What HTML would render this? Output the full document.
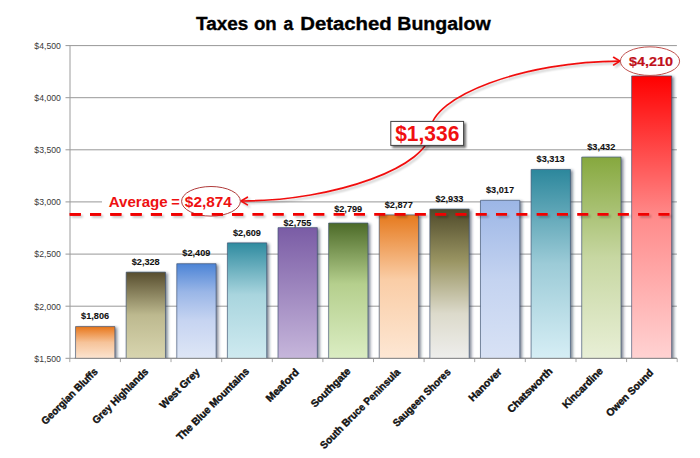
<!DOCTYPE html>
<html lang="en"><head><meta charset="utf-8"><title>Taxes on a Detached Bungalow</title>
<style>html,body{margin:0;padding:0;background:#fff;}body{width:700px;height:458px;overflow:hidden;}svg{display:block;font-family:"Liberation Sans",sans-serif;}</style>
</head><body>
<svg width="700" height="458" viewBox="0 0 700 458">
<defs>
<linearGradient id="g0" x1="0" y1="0" x2="0" y2="1"><stop offset="0" stop-color="#E8761A"/><stop offset="0.5" stop-color="#F6C399"/><stop offset="1" stop-color="#FCE4D0"/></linearGradient>
<linearGradient id="g1" x1="0" y1="0" x2="0" y2="1"><stop offset="0" stop-color="#574D2E"/><stop offset="0.5" stop-color="#BDB98F"/><stop offset="1" stop-color="#D8D5AF"/></linearGradient>
<linearGradient id="g2" x1="0" y1="0" x2="0" y2="1"><stop offset="0" stop-color="#4C84D6"/><stop offset="0.3" stop-color="#9AB6E7"/><stop offset="0.6" stop-color="#C6D4F1"/><stop offset="1" stop-color="#DEE6F6"/></linearGradient>
<linearGradient id="g3" x1="0" y1="0" x2="0" y2="1"><stop offset="0" stop-color="#2F8BA0"/><stop offset="0.45" stop-color="#A9D5DE"/><stop offset="1" stop-color="#CFEAF0"/></linearGradient>
<linearGradient id="g4" x1="0" y1="0" x2="0" y2="1"><stop offset="0" stop-color="#7A5CA5"/><stop offset="1" stop-color="#C6B6DB"/></linearGradient>
<linearGradient id="g5" x1="0" y1="0" x2="0" y2="1"><stop offset="0" stop-color="#4C6A28"/><stop offset="0.45" stop-color="#B5CF8D"/><stop offset="1" stop-color="#DBEDC3"/></linearGradient>
<linearGradient id="g6" x1="0" y1="0" x2="0" y2="1"><stop offset="0" stop-color="#E67A1E"/><stop offset="0.45" stop-color="#FACDA6"/><stop offset="1" stop-color="#FDE7D4"/></linearGradient>
<linearGradient id="g7" x1="0" y1="0" x2="0" y2="1"><stop offset="0" stop-color="#4F4A2A"/><stop offset="0.35" stop-color="#9A9563"/><stop offset="0.7" stop-color="#DCDACB"/><stop offset="1" stop-color="#EEEEEC"/></linearGradient>
<linearGradient id="g8" x1="0" y1="0" x2="0" y2="1"><stop offset="0" stop-color="#9CB6E6"/><stop offset="0.5" stop-color="#C4D3F0"/><stop offset="1" stop-color="#D8E2F5"/></linearGradient>
<linearGradient id="g9" x1="0" y1="0" x2="0" y2="1"><stop offset="0" stop-color="#2C879C"/><stop offset="0.5" stop-color="#9CCBD7"/><stop offset="1" stop-color="#D6EEF5"/></linearGradient>
<linearGradient id="g10" x1="0" y1="0" x2="0" y2="1"><stop offset="0" stop-color="#86A83E"/><stop offset="0.5" stop-color="#C7D7A2"/><stop offset="1" stop-color="#E8EFD6"/></linearGradient>
<linearGradient id="g11" x1="0" y1="0" x2="0" y2="1"><stop offset="0" stop-color="#FF0000"/><stop offset="0.5" stop-color="#FF8B8B"/><stop offset="1" stop-color="#FFD2D2"/></linearGradient>
<filter id="bs" x="-20%" y="-5%" width="150%" height="112%"><feGaussianBlur in="SourceAlpha" stdDeviation="1.4"/><feOffset dx="2.4" dy="1.0"/><feComponentTransfer result="a"><feFuncA type="linear" slope="0.58"/></feComponentTransfer><feFlood flood-color="#24324A" result="c"/><feComposite in="c" in2="a" operator="in"/></filter>
<filter id="sh" x="-10%" y="-30%" width="120%" height="180%"><feGaussianBlur in="SourceAlpha" stdDeviation="1.3"/><feOffset dx="2" dy="2"/><feComponentTransfer><feFuncA type="linear" slope="0.55"/></feComponentTransfer><feMerge><feMergeNode/><feMergeNode in="SourceGraphic"/></feMerge></filter>
<filter id="ls" filterUnits="userSpaceOnUse" x="0" y="0" width="700" height="458"><feGaussianBlur in="SourceAlpha" stdDeviation="1.0"/><feOffset dx="1.5" dy="2"/><feComponentTransfer><feFuncA type="linear" slope="0.22"/></feComponentTransfer><feMerge><feMergeNode/><feMergeNode in="SourceGraphic"/></feMerge></filter>
<clipPath id="pc"><rect x="69.5" y="0" width="630.5" height="358.8"/></clipPath>
</defs>
<rect width="700" height="458" fill="#fff"/>
<text y="30" font-size="18.7" font-weight="bold" fill="#000" stroke="#000" stroke-width="0.35"><tspan x="196.05" textLength="52.25" lengthAdjust="spacingAndGlyphs">Taxes</tspan> <tspan x="253.95" textLength="22.74" lengthAdjust="spacingAndGlyphs">on</tspan> <tspan x="283.53" textLength="9.78" lengthAdjust="spacingAndGlyphs">a</tspan> <tspan x="300.24" textLength="91.54" lengthAdjust="spacingAndGlyphs">Detached</tspan> <tspan x="397.29" textLength="93.40" lengthAdjust="spacingAndGlyphs">Bungalow</tspan></text>
<g stroke="#989898" stroke-width="1" fill="none">
<line x1="65.5" y1="45.6" x2="676.9" y2="45.6"/>
<line x1="65.5" y1="97.7" x2="676.9" y2="97.7"/>
<line x1="65.5" y1="149.8" x2="676.9" y2="149.8"/>
<line x1="65.5" y1="201.9" x2="676.9" y2="201.9"/>
<line x1="65.5" y1="254.1" x2="676.9" y2="254.1"/>
<line x1="65.5" y1="306.2" x2="676.9" y2="306.2"/>
<line x1="65.5" y1="358.3" x2="676.9" y2="358.3"/>
<line x1="70" y1="45.6" x2="70" y2="358.3" stroke="#9C9C9C"/>
<line x1="69.8" y1="358.3" x2="69.8" y2="362.1" stroke="#A4A4A4"/>
<line x1="120.4" y1="358.3" x2="120.4" y2="362.1" stroke="#A4A4A4"/>
<line x1="171.0" y1="358.3" x2="171.0" y2="362.1" stroke="#A4A4A4"/>
<line x1="221.7" y1="358.3" x2="221.7" y2="362.1" stroke="#A4A4A4"/>
<line x1="272.3" y1="358.3" x2="272.3" y2="362.1" stroke="#A4A4A4"/>
<line x1="322.9" y1="358.3" x2="322.9" y2="362.1" stroke="#A4A4A4"/>
<line x1="373.5" y1="358.3" x2="373.5" y2="362.1" stroke="#A4A4A4"/>
<line x1="424.1" y1="358.3" x2="424.1" y2="362.1" stroke="#A4A4A4"/>
<line x1="474.7" y1="358.3" x2="474.7" y2="362.1" stroke="#A4A4A4"/>
<line x1="525.3" y1="358.3" x2="525.3" y2="362.1" stroke="#A4A4A4"/>
<line x1="576.0" y1="358.3" x2="576.0" y2="362.1" stroke="#A4A4A4"/>
<line x1="626.6" y1="358.3" x2="626.6" y2="362.1" stroke="#A4A4A4"/>
<line x1="677.2" y1="358.3" x2="677.2" y2="362.1" stroke="#A4A4A4"/>
</g>
<g fill="#3A3A3A">
<text x="34.35" y="48.9" font-size="8.8" font-weight="normal" textLength="26.55" lengthAdjust="spacingAndGlyphs" >$4,500</text>
<text x="34.35" y="101.0" font-size="8.8" font-weight="normal" textLength="26.55" lengthAdjust="spacingAndGlyphs" >$4,000</text>
<text x="34.35" y="153.1" font-size="8.8" font-weight="normal" textLength="26.55" lengthAdjust="spacingAndGlyphs" >$3,500</text>
<text x="34.35" y="205.2" font-size="8.8" font-weight="normal" textLength="26.55" lengthAdjust="spacingAndGlyphs" >$3,000</text>
<text x="34.35" y="257.4" font-size="8.8" font-weight="normal" textLength="26.55" lengthAdjust="spacingAndGlyphs" >$2,500</text>
<text x="34.35" y="309.5" font-size="8.8" font-weight="normal" textLength="26.55" lengthAdjust="spacingAndGlyphs" >$2,000</text>
<text x="34.35" y="361.6" font-size="8.8" font-weight="normal" textLength="26.55" lengthAdjust="spacingAndGlyphs" >$1,500</text>
</g>
<g clip-path="url(#pc)">
<rect x="75.2" y="326.4" width="40.0" height="35.9" fill="#000" filter="url(#bs)"/>
<rect x="125.8" y="272.0" width="40.0" height="90.3" fill="#000" filter="url(#bs)"/>
<rect x="176.4" y="263.6" width="40.0" height="98.7" fill="#000" filter="url(#bs)"/>
<rect x="227.1" y="242.7" width="40.0" height="119.6" fill="#000" filter="url(#bs)"/>
<rect x="277.7" y="227.5" width="40.0" height="134.8" fill="#000" filter="url(#bs)"/>
<rect x="328.3" y="222.9" width="40.0" height="139.4" fill="#000" filter="url(#bs)"/>
<rect x="378.9" y="214.8" width="40.0" height="147.5" fill="#000" filter="url(#bs)"/>
<rect x="429.5" y="208.9" width="40.0" height="153.4" fill="#000" filter="url(#bs)"/>
<rect x="480.1" y="200.2" width="40.0" height="162.1" fill="#000" filter="url(#bs)"/>
<rect x="530.8" y="169.3" width="40.0" height="193.0" fill="#000" filter="url(#bs)"/>
<rect x="581.4" y="156.9" width="40.0" height="205.4" fill="#000" filter="url(#bs)"/>
<rect x="632.0" y="75.8" width="40.0" height="286.5" fill="#000" filter="url(#bs)"/>
</g>
<rect x="75.56" y="326.55" width="39.30" height="31.75" fill="url(#g0)"/>
<path d="M75.56,358.3 V326.55 H114.86 V358.3" fill="none" stroke="#3C506F" stroke-opacity="0.85" stroke-width="0.75"/>
<rect x="126.18" y="272.14" width="39.30" height="86.16" fill="url(#g1)"/>
<path d="M126.18,358.3 V272.14 H165.48 V358.3" fill="none" stroke="#3C506F" stroke-opacity="0.85" stroke-width="0.75"/>
<rect x="176.79" y="263.70" width="39.30" height="94.60" fill="url(#g2)"/>
<path d="M176.79,358.3 V263.70 H216.09 V358.3" fill="none" stroke="#3C506F" stroke-opacity="0.85" stroke-width="0.75"/>
<rect x="227.41" y="242.86" width="39.30" height="115.44" fill="url(#g3)"/>
<path d="M227.41,358.3 V242.86 H266.71 V358.3" fill="none" stroke="#3C506F" stroke-opacity="0.85" stroke-width="0.75"/>
<rect x="278.02" y="227.64" width="39.30" height="130.66" fill="url(#g4)"/>
<path d="M278.02,358.3 V227.64 H317.32 V358.3" fill="none" stroke="#3C506F" stroke-opacity="0.85" stroke-width="0.75"/>
<rect x="328.64" y="223.05" width="39.30" height="135.25" fill="url(#g5)"/>
<path d="M328.64,358.3 V223.05 H367.94 V358.3" fill="none" stroke="#3C506F" stroke-opacity="0.85" stroke-width="0.75"/>
<rect x="379.26" y="214.92" width="39.30" height="143.38" fill="url(#g6)"/>
<path d="M379.26,358.3 V214.92 H418.56 V358.3" fill="none" stroke="#3C506F" stroke-opacity="0.85" stroke-width="0.75"/>
<rect x="429.88" y="209.08" width="39.30" height="149.22" fill="url(#g7)"/>
<path d="M429.88,358.3 V209.08 H469.18 V358.3" fill="none" stroke="#3C506F" stroke-opacity="0.85" stroke-width="0.75"/>
<rect x="480.49" y="200.33" width="39.30" height="157.97" fill="url(#g8)"/>
<path d="M480.49,358.3 V200.33 H519.79 V358.3" fill="none" stroke="#3C506F" stroke-opacity="0.85" stroke-width="0.75"/>
<rect x="531.11" y="169.47" width="39.30" height="188.83" fill="url(#g9)"/>
<path d="M531.11,358.3 V169.47 H570.41 V358.3" fill="none" stroke="#3C506F" stroke-opacity="0.85" stroke-width="0.75"/>
<rect x="581.73" y="157.07" width="39.30" height="201.23" fill="url(#g10)"/>
<path d="M581.73,358.3 V157.07 H621.02 V358.3" fill="none" stroke="#3C506F" stroke-opacity="0.85" stroke-width="0.75"/>
<rect x="631.64" y="75.98" width="40.00" height="282.32" fill="url(#g11)"/>
<path d="M631.64,358.3 V75.98 H671.64 V358.3" fill="none" stroke="#3C506F" stroke-opacity="0.85" stroke-width="0.75"/>
<line x1="74.6" y1="358.3" x2="676.9" y2="358.3" stroke="#8C8C8C" stroke-width="1"/>
<g filter="url(#ls)"><line x1="69.7" y1="214.4" x2="675.9" y2="214.4" stroke="#F00000" stroke-width="2.7" stroke-dasharray="11.1 9.2"/></g>
<g fill="#111" stroke="#111" stroke-width="0.1">
<text x="81.07" y="319.2" font-size="9.7" font-weight="bold" textLength="28.03" lengthAdjust="spacingAndGlyphs" >$1,806</text>
<text x="131.69" y="264.8" font-size="9.7" font-weight="bold" textLength="28.03" lengthAdjust="spacingAndGlyphs" >$2,328</text>
<text x="182.31" y="256.4" font-size="9.7" font-weight="bold" textLength="28.03" lengthAdjust="spacingAndGlyphs" >$2,409</text>
<text x="232.92" y="235.5" font-size="9.7" font-weight="bold" textLength="28.03" lengthAdjust="spacingAndGlyphs" >$2,609</text>
<text x="283.54" y="225.7" font-size="9.7" font-weight="bold" textLength="27.79" lengthAdjust="spacingAndGlyphs" >$2,755</text>
<text x="334.16" y="211.9" font-size="9.7" font-weight="bold" textLength="28.03" lengthAdjust="spacingAndGlyphs" >$2,799</text>
<text x="384.77" y="207.6" font-size="9.7" font-weight="bold" textLength="28.03" lengthAdjust="spacingAndGlyphs" >$2,877</text>
<text x="435.39" y="201.7" font-size="9.7" font-weight="bold" textLength="28.03" lengthAdjust="spacingAndGlyphs" >$2,933</text>
<text x="486.01" y="193.0" font-size="9.7" font-weight="bold" textLength="28.03" lengthAdjust="spacingAndGlyphs" >$3,017</text>
<text x="536.62" y="162.1" font-size="9.7" font-weight="bold" textLength="28.03" lengthAdjust="spacingAndGlyphs" >$3,313</text>
<text x="587.24" y="149.7" font-size="9.7" font-weight="bold" textLength="28.03" lengthAdjust="spacingAndGlyphs" >$3,432</text>
</g>
<g font-size="10.4" font-weight="bold" fill="#111" stroke="#111" stroke-width="0.4" text-anchor="end">
<text transform="translate(98.29,372.38) rotate(-45)" textLength="74.63" lengthAdjust="spacingAndGlyphs">Georgian Bluffs</text>
<text transform="translate(148.90,372.20) rotate(-45)" textLength="74.00" lengthAdjust="spacingAndGlyphs">Grey Highlands</text>
<text transform="translate(200.42,372.56) rotate(-45)" textLength="51.73" lengthAdjust="spacingAndGlyphs">West Grey</text>
<text transform="translate(249.78,372.02) rotate(-45)" textLength="97.70" lengthAdjust="spacingAndGlyphs">The Blue Mountains</text>
<text transform="translate(299.68,372.92) rotate(-45)" textLength="41.95" lengthAdjust="spacingAndGlyphs">Meaford</text>
<text transform="translate(351.19,372.02) rotate(-45)" textLength="51.05" lengthAdjust="spacingAndGlyphs">Southgate</text>
<text transform="translate(400.91,372.74) rotate(-45)" textLength="108.40" lengthAdjust="spacingAndGlyphs">South Bruce Peninsula</text>
<text transform="translate(451.35,372.74) rotate(-45)" textLength="76.97" lengthAdjust="spacingAndGlyphs">Saugeen Shores</text>
<text transform="translate(502.50,372.38) rotate(-45)" textLength="41.96" lengthAdjust="spacingAndGlyphs">Hanover</text>
<text transform="translate(553.12,371.84) rotate(-45)" textLength="58.81" lengthAdjust="spacingAndGlyphs">Chatsworth</text>
<text transform="translate(603.56,371.84) rotate(-45)" textLength="52.56" lengthAdjust="spacingAndGlyphs">Kincardine</text>
<text transform="translate(653.99,373.46) rotate(-45)" textLength="61.97" lengthAdjust="spacingAndGlyphs">Owen Sound</text>
</g>
<g filter="url(#ls)" stroke="#F01010" stroke-width="1.65" fill="none" stroke-linecap="round" stroke-linejoin="round">
<path d="M241.0,201.0 C335.8,201.0 430.5,166.0 430.5,131.1 C430.5,96.1 525.2,61.1 620.0,61.1"/>
<path d="M247.4,197.2 L241.0,201.0 L247.4,204.9"/>
<path d="M613.6,57.3 L620.0,61.1 L613.6,65.0"/>
</g>
<rect x="102" y="192" width="85" height="18" fill="#fff"/>
<ellipse cx="211" cy="201.3" rx="29.4" ry="14.8" fill="#fff" stroke="#B03A3A" stroke-width="1"/>
<g fill="#EE1111"><text x="108.78" y="206.8" font-size="14.6" font-weight="bold" textLength="58.91" lengthAdjust="spacingAndGlyphs" >Average</text><text x="171.20" y="206.8" font-size="14.6" font-weight="bold" textLength="8.53" lengthAdjust="spacingAndGlyphs" >=</text><text x="184.83" y="207.0" font-size="14.4" font-weight="bold" textLength="47.11" lengthAdjust="spacingAndGlyphs" >$2,874</text></g>
<line x1="69.7" y1="214.4" x2="250" y2="214.4" stroke="#F00000" stroke-width="2.7" stroke-dasharray="11.1 9.2"/>
<g filter="url(#sh)"><rect x="390.8" y="121.4" width="72.8" height="24.0" fill="#fff" stroke="#404040" stroke-width="1"/></g>
<text x="395.16" y="140.7" font-size="22" font-weight="bold" textLength="64.19" lengthAdjust="spacingAndGlyphs" fill="#F01010">$1,336</text>
<ellipse cx="650" cy="61.15" rx="29.6" ry="14.3" fill="#fff" stroke="#C0504D" stroke-width="1"/>
<text x="629.13" y="66.4" font-size="13.3" font-weight="bold" textLength="43.89" lengthAdjust="spacingAndGlyphs" fill="#C0101A" stroke="#C0101A" stroke-width="0.2">$4,210</text>
</svg>
</body></html>
